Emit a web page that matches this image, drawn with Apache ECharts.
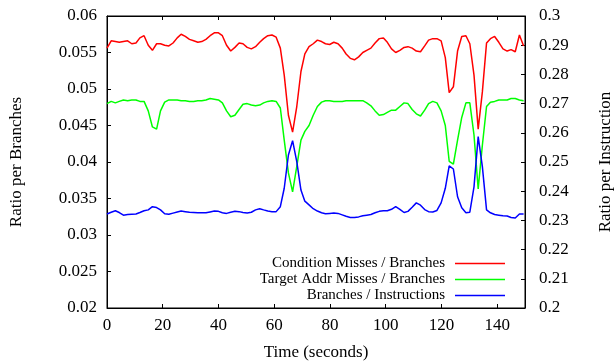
<!DOCTYPE html>
<html>
<head>
<meta charset="utf-8">
<script src="https://cdn.jsdelivr.net/npm/echarts@6/dist/echarts.min.js"></script>
<style>
  html, body { margin: 0; padding: 0; background: #fff; }
  #chartmain { width: 614px; height: 362px; }
</style>
</head>
<body>
<div id="chartmain"></div>
<script>
//时间(秒)
var times = [0, 1.5, 3, 4.4, 5.9, 7.4, 8.9, 10.4, 11.8, 13.3, 14.8, 16.3, 17.8, 19.2, 20.7, 22.2, 23.7, 25.2, 26.6, 28.1,
    29.6, 31.1, 32.6, 34, 35.5, 37, 38.5, 40, 41.4, 42.9, 44.4, 45.9, 47.4, 48.8, 50.3, 51.8, 53.3, 54.8, 56.2, 57.7,
    59.2, 60.7, 62.2, 63.6, 65.1, 66.6, 68.1, 69.6, 71, 72.5, 74, 75.5, 77, 78.4, 79.9, 81.4, 82.9, 84.4, 85.8, 87.3,
    88.8, 90.3, 91.8, 93.2, 94.7, 96.2, 97.7, 99.2, 100.6, 102.1, 103.6, 105.1, 106.6, 108, 109.5, 111, 112.5, 114, 115.4, 116.9,
    118.4, 119.9, 121.4, 122.8, 124.3, 125.8, 127.3, 128.8, 130.2, 131.7, 133.2, 134.7, 136.2, 137.6, 139.1, 140.6, 142.1, 143.6, 145, 146.5,
    148, 149.5];

//Condition Misses / Branches
var condMisses = [0.0556, 0.0566, 0.0565, 0.0564, 0.0565, 0.0566, 0.0562, 0.0563, 0.0570, 0.0573, 0.0560, 0.0553, 0.0562, 0.0562, 0.0560, 0.0559, 0.0563, 0.0570, 0.0575, 0.0572,
    0.0568, 0.0566, 0.0564, 0.0565, 0.0568, 0.0573, 0.0577, 0.0577, 0.0573, 0.0560, 0.0552, 0.0557, 0.0563, 0.0562, 0.0557, 0.0555, 0.0558, 0.0564, 0.0569, 0.0573,
    0.0574, 0.0571, 0.0556, 0.0519, 0.0464, 0.0441, 0.0476, 0.0524, 0.0548, 0.0558, 0.0562, 0.0567, 0.0565, 0.0562, 0.0561, 0.0564, 0.0562, 0.0556, 0.0548, 0.0542,
    0.0540, 0.0544, 0.0550, 0.0553, 0.0556, 0.0563, 0.0569, 0.0570, 0.0564, 0.0555, 0.0550, 0.0553, 0.0557, 0.0558, 0.0556, 0.0552, 0.0551, 0.0559, 0.0567, 0.0569,
    0.0569, 0.0566, 0.0543, 0.0495, 0.0503, 0.0552, 0.0572, 0.0573, 0.0562, 0.0519, 0.0445, 0.0496, 0.0563, 0.0569, 0.0572, 0.0564, 0.0555, 0.0552, 0.0554, 0.0551,
    0.0574, 0.0559];

//Target Addr Misses / Branches
var targetMisses = [0.0480, 0.0483, 0.0481, 0.0483, 0.0485, 0.0484, 0.0485, 0.0485, 0.0483, 0.0483, 0.0470, 0.0448, 0.0445, 0.0470, 0.0482, 0.0485, 0.0485, 0.0485, 0.0484, 0.0484,
    0.0483, 0.0483, 0.0484, 0.0484, 0.0485, 0.0487, 0.0486, 0.0485, 0.0481, 0.0470, 0.0462, 0.0464, 0.0472, 0.0479, 0.0480, 0.0478, 0.0477, 0.0478, 0.0481, 0.0483,
    0.0484, 0.0483, 0.0474, 0.0430, 0.0385, 0.0359, 0.0394, 0.0430, 0.0442, 0.0450, 0.0464, 0.0476, 0.0482, 0.0484, 0.0484, 0.0483, 0.0483, 0.0483, 0.0484, 0.0484,
    0.0484, 0.0484, 0.0484, 0.0481, 0.0477, 0.0470, 0.0464, 0.0465, 0.0468, 0.0471, 0.0471, 0.0476, 0.0481, 0.0480, 0.0472, 0.0466, 0.0463, 0.0471, 0.0480, 0.0483,
    0.0481, 0.0470, 0.0450, 0.0401, 0.0397, 0.0430, 0.0461, 0.0481, 0.0481, 0.0437, 0.0363, 0.0423, 0.0476, 0.0482, 0.0483, 0.0485, 0.0485, 0.0485, 0.0487, 0.0487,
    0.0485, 0.0484];

//Branches / Instructions (右轴)
var branchRatio = [0.2322, 0.2328, 0.2333, 0.2327, 0.2318, 0.2320, 0.2321, 0.2322, 0.2327, 0.2333, 0.2336, 0.2347, 0.2344, 0.2336, 0.2323, 0.2321, 0.2325, 0.2329, 0.2332, 0.2330,
    0.2328, 0.2327, 0.2326, 0.2326, 0.2326, 0.2329, 0.2332, 0.2331, 0.2326, 0.2324, 0.2328, 0.2331, 0.2330, 0.2327, 0.2325, 0.2328, 0.2336, 0.2340, 0.2336, 0.2332,
    0.2330, 0.2330, 0.2347, 0.2410, 0.2524, 0.2573, 0.2501, 0.2404, 0.2366, 0.2353, 0.2340, 0.2332, 0.2326, 0.2323, 0.2324, 0.2325, 0.2324, 0.2319, 0.2314, 0.2310,
    0.2310, 0.2312, 0.2316, 0.2318, 0.2320, 0.2326, 0.2331, 0.2333, 0.2333, 0.2338, 0.2347, 0.2338, 0.2327, 0.2331, 0.2345, 0.2360, 0.2352, 0.2337, 0.2330, 0.2329,
    0.2334, 0.2360, 0.2410, 0.2487, 0.2476, 0.2381, 0.2343, 0.2326, 0.2328, 0.2415, 0.2587, 0.2484, 0.2336, 0.2326, 0.2320, 0.2318, 0.2316, 0.2315, 0.2310, 0.2308,
    0.2322, 0.2322];

var seriesNames = ['Condition Misses / Branches', 'Target Addr Misses / Branches', 'Branches / Instructions'];
var seriesColors = ['#ff0000', '#00ff00', '#0000ff'];

function pairs(values) {
    return times.map(function (t, i) { return [t, values[i]]; });
}

var fontFamily = '"Liberation Serif", "DejaVu Serif", serif';

//刻度朝内, 每个轴单独一份
function tick() {
    return { show: true, inside: true, length: 4, lineStyle: { color: '#000', width: 1 } };
}
//onZero关掉, 不然右轴会跑到x=0的位置
function axisLine() {
    return { show: true, onZero: false, lineStyle: { color: '#000', width: 1 } };
}

var option = {
    animation: false,
    backgroundColor: '#fff',
    textStyle: { fontFamily: fontFamily, color: '#000' },
    grid: {
        left: 107, right: 89, top: 16, bottom: 54,
        outerBoundsMode: 'none',
        containLabel: false,
        show: true, borderColor: '#000', borderWidth: 1, backgroundColor: 'transparent'
    },
    legend: {
        orient: 'vertical',
        align: 'right',
        right: 104,
        top: 251,
        icon: 'rect',
        itemWidth: 50,
        itemHeight: 1.5,
        itemGap: 1,
        textStyle: { fontFamily: fontFamily, fontSize: 15, color: '#000', padding: [0, 5, 0, 0] },
        data: seriesNames
    },
    xAxis: [{
        type: 'value',
        min: 0, max: 150, interval: 20,
        position: 'bottom',
        axisLine: axisLine(),
        axisTick: tick(),
        splitLine: { show: false },
        axisLabel: { color: '#000', fontSize: 17, margin: 9, fontFamily: fontFamily, showMaxLabel: false },
        name: 'Time (seconds)',
        nameLocation: 'middle',
        nameGap: 36,
        nameTextStyle: { fontSize: 17, color: '#000', fontFamily: fontFamily }
    }, {
        //上边框镜像刻度
        type: 'value',
        min: 0, max: 150, interval: 20,
        position: 'top',
        axisLine: axisLine(),
        axisTick: tick(),
        splitLine: { show: false },
        axisLabel: { show: false }
    }],
    yAxis: [{
        type: 'value',
        min: 0.02, max: 0.06, interval: 0.005,
        position: 'left',
        axisLine: axisLine(),
        axisTick: tick(),
        splitLine: { show: false },
        axisLabel: { color: '#000', fontSize: 17, margin: 10, fontFamily: fontFamily },
        name: 'Ratio per Branches',
        nameLocation: 'middle',
        nameRotate: 90,
        nameGap: 82,
        nameTextStyle: { fontSize: 17, color: '#000', fontFamily: fontFamily }
    }, {
        type: 'value',
        min: 0.2, max: 0.3, interval: 0.01,
        position: 'right',
        axisLine: axisLine(),
        axisTick: tick(),
        splitLine: { show: false },
        axisLabel: { color: '#000', fontSize: 17, margin: 14, fontFamily: fontFamily },
        name: 'Ratio per Instruction',
        nameLocation: 'middle',
        nameRotate: 90,
        nameGap: 72,
        nameTextStyle: { fontSize: 17, color: '#000', fontFamily: fontFamily }
    }],
    series: [{
        name: seriesNames[0],
        type: 'line',
        yAxisIndex: 0,
        symbol: 'none',
        lineStyle: { color: seriesColors[0], width: 1.5 },
        itemStyle: { color: seriesColors[0] },
        data: pairs(condMisses)
    }, {
        name: seriesNames[1],
        type: 'line',
        yAxisIndex: 0,
        symbol: 'none',
        lineStyle: { color: seriesColors[1], width: 1.5 },
        itemStyle: { color: seriesColors[1] },
        data: pairs(targetMisses)
    }, {
        name: seriesNames[2],
        type: 'line',
        yAxisIndex: 1,
        symbol: 'none',
        lineStyle: { color: seriesColors[2], width: 1.5 },
        itemStyle: { color: seriesColors[2] },
        data: pairs(branchRatio)
    }]
};

var myChart = echarts.init(document.getElementById('chartmain'));
myChart.setOption(option);
</script>
</body>
</html>
